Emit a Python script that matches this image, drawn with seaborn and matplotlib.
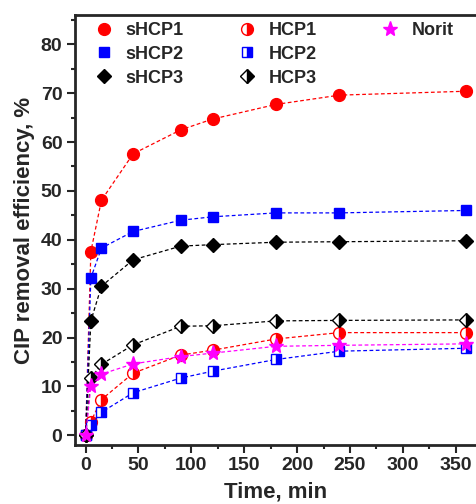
import numpy as np
import matplotlib
matplotlib.use("Agg")
import matplotlib.pyplot as plt
import seaborn as sns
from matplotlib.ticker import MultipleLocator

# contact time, min
time = [0, 5, 15, 45, 90, 120, 180, 240, 360]

# CIP removal efficiency, %
shcp1 = [0, 37.6, 48.1, 57.6, 62.5, 64.7, 67.7, 69.6, 70.4]
shcp2 = [0, 32.2, 38.3, 41.7, 44.0, 44.7, 45.5, 45.5, 46.0]
shcp3 = [0, 23.4, 30.5, 35.9, 38.7, 39.0, 39.5, 39.6, 39.8]
hcp1 = [0, 2.8, 7.3, 12.7, 16.4, 17.4, 19.7, 21.0, 21.0]
hcp2 = [0, 2.1, 4.7, 8.7, 11.7, 13.1, 15.5, 17.2, 17.8]
hcp3 = [0, 11.7, 14.5, 18.5, 22.3, 22.4, 23.4, 23.5, 23.6]
norit = [0, 10.0, 12.5, 14.6, 16.1, 16.8, 18.2, 18.4, 18.7]

sns.set_style("ticks")
plt.rcParams['font.family'] = ['Liberation Sans', 'DejaVu Sans']
plt.rcParams['font.weight'] = 'bold'
plt.rcParams['axes.labelweight'] = 'bold'

fig = plt.figure(figsize=(4.77, 5.04), dpi=100)
ax = fig.add_axes([75/477, 59/504, 402/477, 430/504])

series = [
    ("sHCP1", shcp1, "#ff0000", "o", "full", 8.5),
    ("sHCP2", shcp2, "#0000ff", "s", "full", 7.8),
    ("sHCP3", shcp3, "#000000", "D", "full", 7.5),
    ("HCP1", hcp1, "#ff0000", "o", "right", 8.5),
    ("HCP2", hcp2, "#0000ff", "s", "right", 7.8),
    ("HCP3", hcp3, "#000000", "D", "right", 7.5),
    ("Norit", norit, "#ff00ff", "*", "full", 11),
]

for name, vals, col, mk, fs, ms in series:
    sns.lineplot(x=time, y=vals, ax=ax, color=col, marker=mk, markersize=ms,
                 fillstyle=fs, markerfacecoloralt="white", markerfacecolor=col,
                 markeredgecolor=col, markeredgewidth=1.0,
                 linestyle=(0, (3, 2)), linewidth=0.9, label=name)

ax.set_xlim(-10, 370)
ax.set_ylim(-2, 86)
ax.xaxis.set_major_locator(MultipleLocator(50))
ax.xaxis.set_minor_locator(MultipleLocator(25))
ax.yaxis.set_major_locator(MultipleLocator(10))
ax.yaxis.set_minor_locator(MultipleLocator(5))
ax.tick_params(which="major", direction="out", length=6, width=1.5, labelsize=14, pad=3)
ax.tick_params(which="minor", direction="out", length=3, width=1.5)
for lbl in ax.get_xticklabels() + ax.get_yticklabels():
    lbl.set_fontweight("bold")
for sp in ax.spines.values():
    sp.set_linewidth(2)

ax.set_xlabel("Time, min", fontsize=16, fontweight="bold", labelpad=5)
ax.set_ylabel("CIP removal efficiency, %", fontsize=16, fontweight="bold", labelpad=4)

# legend: three separate columns
handles, labels = ax.get_legend_handles_labels()
groups = [(0, 3, 0.05), (3, 6, 0.405), (6, 7, 0.761)]
legs = []
for a, b, xpos in groups:
    leg = ax.legend(handles[a:b], labels[a:b], loc="upper left",
                    bbox_to_anchor=(xpos, 0.984), frameon=False, fontsize=13,
                    handlelength=1.0, handletextpad=0.7, labelspacing=0.38,
                    borderpad=0, borderaxespad=0)
    for h in leg.legend_handles:
        h.set_linestyle("none")
    legs.append(leg)
for leg in legs[:-1]:
    ax.add_artist(leg)

fig.savefig("out.png", dpi=100)
